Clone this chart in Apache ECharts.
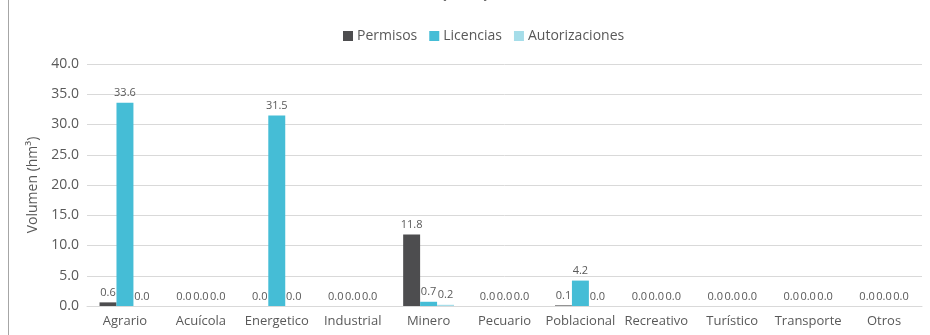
<!DOCTYPE html>
<html>
<head>
<meta charset="utf-8">
<script src="https://cdn.jsdelivr.net/npm/echarts@6/dist/echarts.min.js"></script>
<style>
  html, body { margin: 0; padding: 0; background: #ffffff; }
  #chart { width: 930px; height: 335px; }
</style>
</head>
<body>
<div id="chart"></div>
<script>
// Sectores de uso
const categories = ['Agrario', 'Acuícola', 'Energetico', 'Industrial', 'Minero', 'Pecuario',
  'Poblacional', 'Recreativo', 'Turístico', 'Transporte', 'Otros'];

// Volumen por tipo de instrumento (hm³)
const permisos       = [0.6, 0.0, 0.0, 0.0, 11.8, 0.0, 0.1, 0.0, 0.0, 0.0, 0.0];
const licencias      = [33.6, 0.0, 31.5, 0.0, 0.7, 0.0, 4.2, 0.0, 0.0, 0.0, 0.0];
const autorizaciones = [0.0, 0.0, 0.0, 0.0, 0.2, 0.0, 0.0, 0.0, 0.0, 0.0, 0.0];

const yTicks = { min: 0, max: 40, interval: 5 };

const FONT = '"Open Sans", sans-serif';
const TEXT = '#595959';

function barSeries(name, data, color) {
  return {
    name: name,
    type: 'bar',
    data: data,
    barGap: '0%',
    barCategoryGap: '33%',
    itemStyle: { color: color },
    label: {
      show: true,
      position: 'top',
      distance: 4,
      fontSize: 11,
      fontFamily: FONT,
      color: TEXT,
      formatter: p => p.value.toFixed(1)
    }
  };
}

const chart = echarts.init(document.getElementById('chart'), null, { renderer: 'canvas' });
chart.setOption({
  animation: false,
  backgroundColor: '#ffffff',
  title: {
    text: '(hm³)',
    left: 'center',
    top: -21,
    textStyle: { fontSize: 18, fontWeight: 'bold', color: '#404040', fontFamily: FONT }
  },
  legend: {
    top: 24,
    left: 338,
    itemWidth: 10,
    itemHeight: 10,
    itemGap: 12,
    icon: 'rect',
    textStyle: { fontSize: 14, color: TEXT, fontFamily: FONT, padding: [0, 0, 0, -1] },
    data: ['Permisos', 'Licencias', 'Autorizaciones']
  },
  grid: { left: 87, right: 8, top: 64, bottom: 29, containLabel: false },
  xAxis: {
    type: 'category',
    data: categories,
    axisLine: { show: true, lineStyle: { color: '#d9d9d9', width: 1 } },
    axisTick: { show: false },
    axisLabel: { fontSize: 13, color: TEXT, fontFamily: FONT, margin: 9, interval: 0 }
  },
  yAxis: {
    type: 'value',
    min: yTicks.min,
    max: yTicks.max,
    interval: yTicks.interval,
    name: 'Volumen (hm³)',
    nameLocation: 'middle',
    nameGap: 40,
    nameRotate: 90,
    nameTextStyle: { fontSize: 14, color: TEXT, fontFamily: FONT },
    axisLine: { show: false },
    axisTick: { show: false },
    axisLabel: { fontSize: 14, color: TEXT, fontFamily: FONT, margin: 8, formatter: v => v.toFixed(1) },
    splitLine: { lineStyle: { color: '#d9d9d9', width: 1 } }
  },
  graphic: [{
    type: 'line',
    shape: { x1: 8.5, y1: 0, x2: 8.5, y2: 335 },
    style: { stroke: '#a6a6a6', lineWidth: 1 }
  }],
  series: [
    barSeries('Permisos', permisos, '#4d4d4f'),
    barSeries('Licencias', licencias, '#45bdd6'),
    barSeries('Autorizaciones', autorizaciones, '#a5dde9')
  ]
});
</script>
</body>
</html>
